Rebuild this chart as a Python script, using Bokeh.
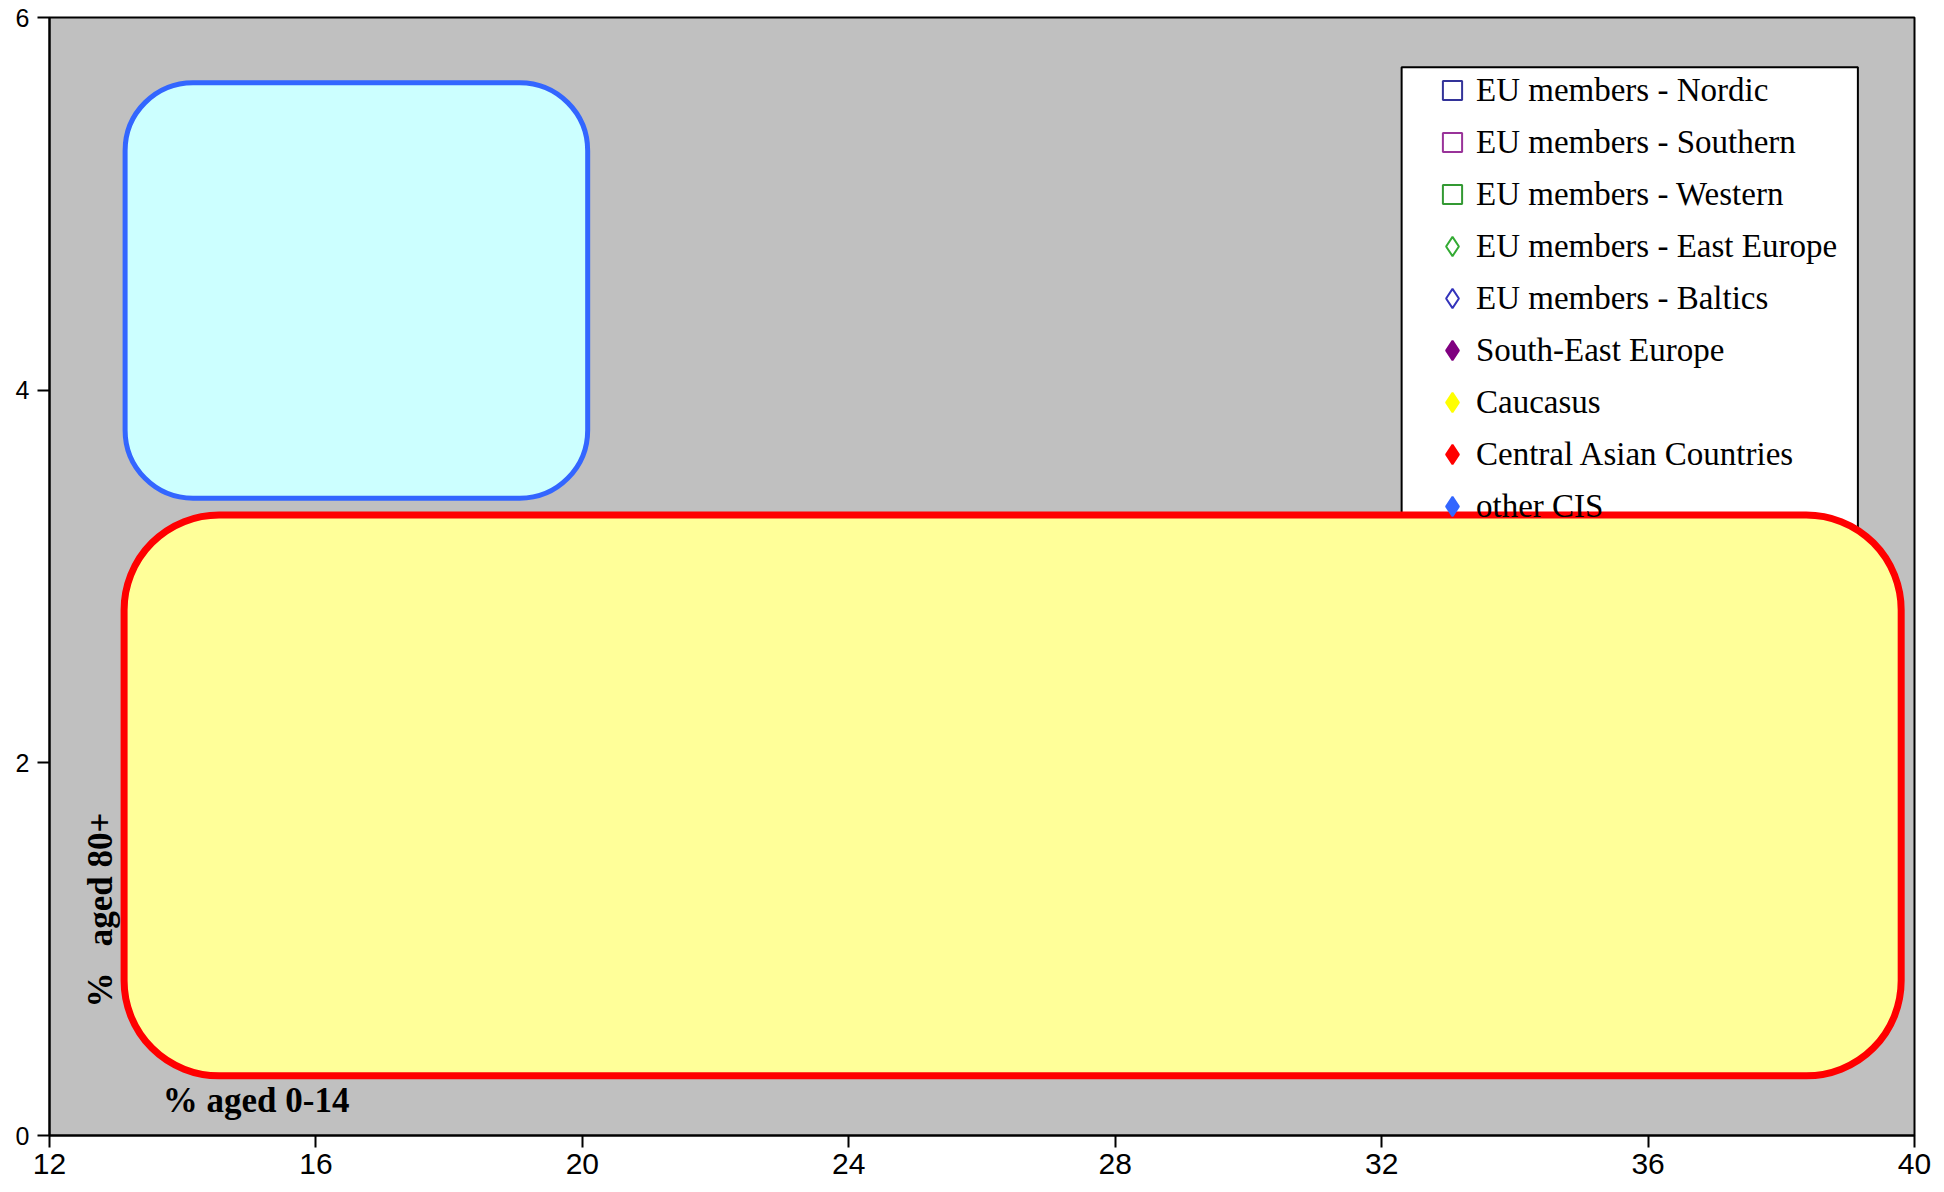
import math
from bokeh.plotting import figure
from bokeh.models import BoxAnnotation, Label, FixedTicker, Legend, LegendItem
from bokeh.embed import file_html
from bokeh.resources import INLINE

# ---- data ----
groups = [
    "EU members - Nordic",
    "EU members - Southern",
    "EU members - Western",
    "EU members - East Europe",
    "EU members - Baltics",
    "South-East Europe",
    "Caucasus",
    "Central Asian Countries",
    "other CIS",
]
group_markers = ["square", "square", "square", "diamond", "diamond",
                 "diamond", "diamond", "diamond", "diamond"]
group_hollow = [True, True, True, True, True, False, False, False, False]
group_colors = ["#333399", "#993399", "#339933", "#33AA33", "#3333BB",
                "#800080", "#FFFF00", "#FF0000", "#3366FF"]
# No individual country point is visible in the picture (all are covered by
# the highlight shapes), so every series holds a single missing value.
NA = float("nan")
aged_0_14 = [[NA], [NA], [NA], [NA], [NA], [NA], [NA], [NA], [NA]]
aged_80_plus = [[NA], [NA], [NA], [NA], [NA], [NA], [NA], [NA], [NA]]

x_ticks = [12, 16, 20, 24, 28, 32, 36, 40]
y_ticks = [0, 2, 4, 6]
x_title = "% aged 0-14"
y_title = "%\u00a0\u00a0\u00a0aged 80+"

# ---- figure ----
p = figure(width=1944, height=1192, x_range=(12, 40), y_range=(0, 6),
           output_backend="svg", toolbar_location=None,
           min_border_left=49, min_border_right=30,
           min_border_top=17, min_border_bottom=57)
p.background_fill_color = "#C0C0C0"
p.border_fill_color = "white"
p.outline_line_color = "black"
p.outline_line_width = 2
p.grid.visible = False

p.xaxis.ticker = FixedTicker(ticks=x_ticks)
p.yaxis.ticker = FixedTicker(ticks=y_ticks)
for ax in (p.xaxis[0], p.yaxis[0]):
    ax.axis_line_color = "black"
    ax.axis_line_width = 2
    ax.major_tick_line_color = "black"
    ax.major_tick_line_width = 2
    ax.major_tick_out = 12
    ax.major_tick_in = 0
    ax.minor_tick_out = 0
    ax.minor_tick_in = 0
    ax.major_label_text_font = "Liberation Sans"
    ax.major_label_text_color = "black"
p.xaxis.major_label_text_font_size = "30px"
p.xaxis.major_label_standoff = 6
p.yaxis.major_label_text_font_size = "25px"
p.yaxis.major_label_standoff = 8

# legend background box (under the legend)
legend_box = BoxAnnotation(left=32.30, right=39.15, top=5.733, bottom=3.0,
                           fill_color="white", fill_alpha=1.0,
                           line_color="black", line_alpha=1.0, line_width=2,
                           level="underlay")
p.add_layout(legend_box)

items = []
for i, g in enumerate(groups):
    r = p.scatter(x=aged_0_14[i], y=aged_80_plus[i], marker=group_markers[i],
                  size=18, line_color=group_colors[i], line_width=2,
                  fill_color="white" if group_hollow[i] else group_colors[i],
                  fill_alpha=0.0 if group_hollow[i] else 1.0)
    items.append(LegendItem(label=g, renderers=[r]))

legend = Legend(items=items, location=(1379, 605), padding=0, spacing=4,
                glyph_width=48, glyph_height=48, label_standoff=0,
                label_height=40, label_text_font="Liberation Serif",
                label_text_font_size="33px", label_text_color="black",
                border_line_alpha=0, background_fill_alpha=0, margin=0)
p.add_layout(legend)

# highlight shapes drawn over the chart
blue_box = BoxAnnotation(left=13.135, right=20.08, top=5.65, bottom=3.42,
                         fill_color="#CCFFFF", fill_alpha=1.0,
                         line_color="#3366FF", line_alpha=1.0, line_width=5,
                         border_radius=68, level="overlay")
red_box = BoxAnnotation(left=13.12, right=39.80, top=3.33, bottom=0.32,
                        fill_color="#FFFF99", fill_alpha=1.0,
                        line_color="#FF0000", line_alpha=1.0, line_width=7,
                        border_radius=95, level="overlay")
p.add_layout(blue_box)
p.add_layout(red_box)

p.add_layout(Label(x=12.77, y=1.21, text=y_title, angle=math.pi / 2,
                   text_align="center", text_baseline="middle",
                   text_font="Liberation Serif", text_font_style="bold",
                   text_font_size="35px", text_color="black"))
p.add_layout(Label(x=13.70, y=0.188, text=x_title,
                   text_align="left", text_baseline="middle",
                   text_font="Liberation Serif", text_font_style="bold",
                   text_font_size="35px", text_color="black"))

open("out.html", "w").write(file_html(p, INLINE))
